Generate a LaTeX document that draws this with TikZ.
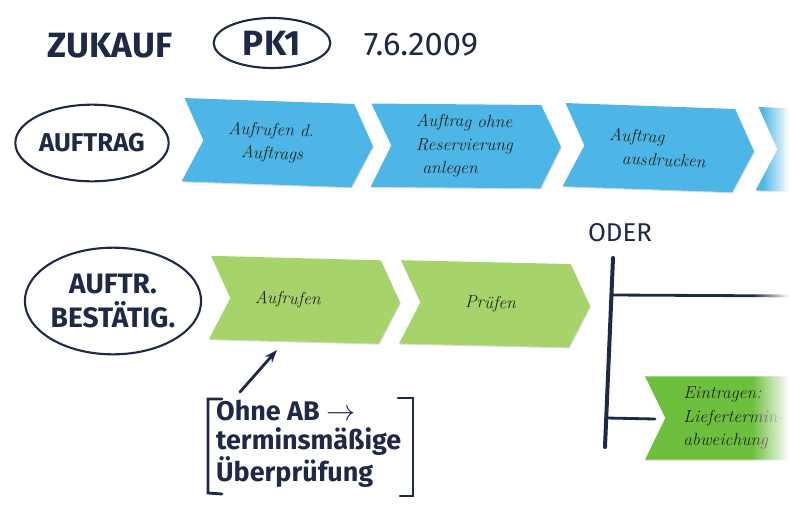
\documentclass[tikz,border=0pt]{standalone}
\usepackage{fontspec}
\setsansfont{Fira Sans}
\usetikzlibrary{shapes.symbols,shapes.geometric,arrows.meta,fadings,shadows}

\definecolor{marker}{HTML}{1E2A45}
\definecolor{zettelblau}{HTML}{4DB6E6}
\definecolor{zettelgruen}{HTML}{A6D46A}
\definecolor{zetteldunkel}{HTML}{6DBF3E}

\tikzset{zettel/.style = {signal, signal to=east, signal from=west,
                          signal pointer angle=128, fill=#1, draw=none,
                          minimum width=57mm, minimum height=25mm, inner sep=0pt,
                          text width=30mm, align=left, text=black!85,
                          font=\itshape\fontsize{15}{20}\selectfont,
                          drop shadow={shadow xshift=0.7pt, shadow yshift=-0.9pt, opacity=0.3}
                         },
         zettel/.default=zettelblau,
         blase/.style = {ellipse, draw=marker, line width=1.8pt, inner sep=0pt,
                         text=marker, align=center,
                         font=\sffamily\bfseries\fontsize{22}{22}\selectfont},
         schrift/.style = {text=marker, font=\sffamily\bfseries\fontsize{#1}{#1}\selectfont},
         schrift/.default=30,
         strich/.style = {draw=marker, line width=#1, line cap=round},
         strich/.default=2.4pt
        }

\begin{document}
\begin{tikzpicture}[x=0.3mm, y=-0.3mm]
  \useasboundingbox (0,0) rectangle (789,504);
  \clip (0,0) rectangle (789,504);

  % Kopfzeile
  \node[schrift] (zukauf) at (110,46) {ZUKAUF};
  \node[blase, minimum width=35mm, minimum height=15mm,
        font=\sffamily\bfseries\fontsize{30}{30}\selectfont] (pk) at (272,43) {PK1};
  \node[schrift, font=\sffamily\fontsize{28}{28}\selectfont] (datum) at (421,45) {7.6.2009};

  % Zeile Auftrag
  \node[blase, minimum width=46mm, minimum height=23mm] (auftrag) at (92,143) {AUFTRAG};
  \node[zettel, rotate=-2] (aufrufen) at (278,143) {Aufrufen d.\\ \hspace*{4mm}Auftrags};
  \node[zettel, rotate=-0.5] (anlegen) at (466,146) {Auftrag ohne\\ Reservierung\\ \hspace*{2mm}anlegen};
  \node[zettel, rotate=-2] (drucken) at (659,148) {Auftrag\\ \hspace*{4mm}ausdrucken};
  \node[zettel, rotate=-2] (weiter) at (852,152) {};

  % Zeile Auftragsbestaetigung
  \node[blase, minimum width=52mm, minimum height=32mm,
        font=\sffamily\bfseries\fontsize{24}{29}\selectfont] (bestaetig) at (113,301) {AUFTR.\\ BEST\"ATIG.};
  \node[zettel=zettelgruen, rotate=-1.5] (abrufen) at (305,300) {Aufrufen};
  \node[zettel=zettelgruen, rotate=-1.3] (pruefen) at (495,304) {\hspace*{6mm}Pr\"ufen};
  \node[zettel=zetteldunkel, text width=34mm] (eintragen) at (740,418)
       {Eintragen:\\ Liefertermin-\\ abweichung};

  % Verzweigung
  \node[schrift=22, font=\sffamily\fontsize{22}{22}\selectfont] (oder) at (620,233) {ODER};
  \coordinate (balkenoben) at (613,258);
  \coordinate (balkenunten) at (605,447);
  \coordinate (ast1) at (612,295);
  \coordinate (ast1ende) at (800,296);
  \coordinate (ast2) at (607,418);
  \coordinate (ast2ende) at (655,419);
  \draw[strich=3.4pt] (balkenoben) -- (balkenunten);
  \draw[strich] (ast1) -- (ast1ende);
  \draw[strich] (ast2) -- (ast2ende);

  % Hinweis mit Klammern
  \node[schrift=22, align=left, anchor=west,
        font=\sffamily\bfseries\fontsize{23}{25}\selectfont] (hinweis) at (212,444)
       {Ohne AB $\rightarrow$\\ terminsm\"a\ss ige\\ \"Uberpr\"ufung};
  \draw[strich] (222,399) -- (208,399) -- (208,493) -- (222,494);
  \draw[strich] (398,398) -- (413,398) -- (413,496) -- (400,496);
  \coordinate (pfeilfuss) at (240,392);
  \coordinate (pfeilspitze) at (277,350);
  \draw[strich, -{Stealth[length=11pt,width=8pt]}] (pfeilfuss) -- (pfeilspitze);

  % ausgeblendeter rechter Rand
  \fill[white, path fading=west] (762,90) rectangle (789,205);
  \fill[white, path fading=west] (752,280) rectangle (789,470);
\end{tikzpicture}
\end{document}
